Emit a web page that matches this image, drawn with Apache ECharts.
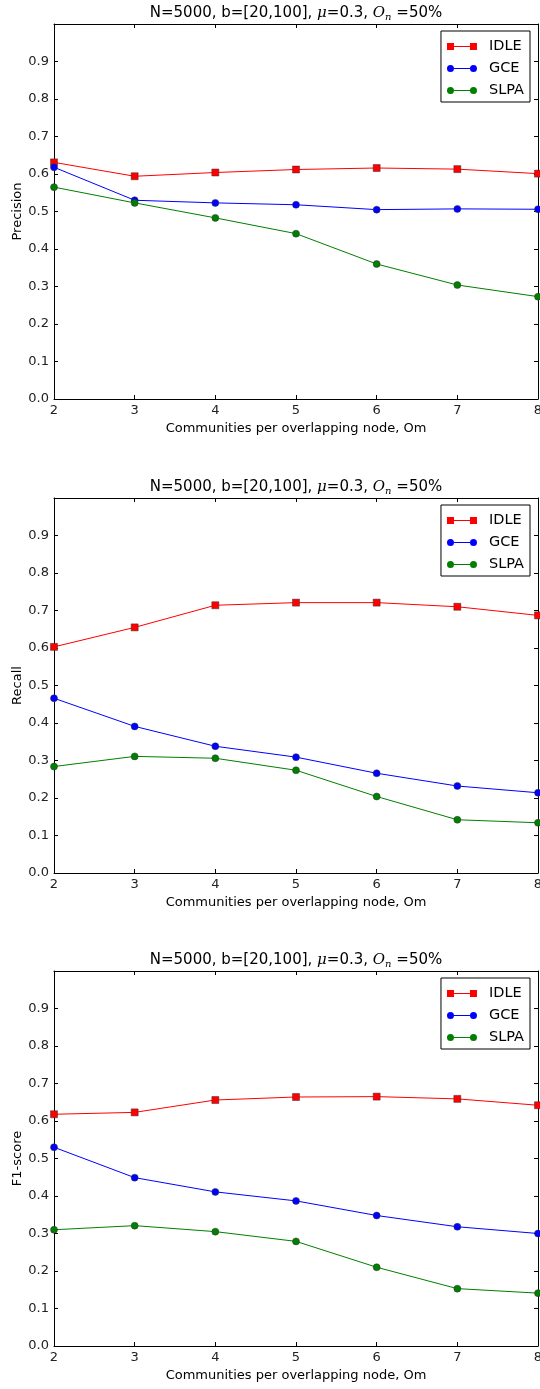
<!DOCTYPE html>
<html>
<head>
<meta charset="utf-8">
<script src="https://cdn.jsdelivr.net/npm/echarts@6/dist/echarts.min.js"></script>
<style>html,body{margin:0;padding:0;background:#fff;overflow:hidden;}#c{width:540px;height:1389px;}</style>
</head>
<body>
<div id="c"></div>
<script>
const om = [2, 3, 4, 5, 6, 7, 8];
const seriesNames = ['IDLE', 'GCE', 'SLPA'];
const yTitles = ['Precision', 'Recall', 'F1-score'];
const xTitle = 'Communities per overlapping node, Om';

const precisionIDLE = [0.631, 0.594, 0.604, 0.612, 0.616, 0.613, 0.601];
const precisionGCE  = [0.618, 0.530, 0.523, 0.518, 0.505, 0.507, 0.506];
const precisionSLPA = [0.565, 0.523, 0.483, 0.441, 0.360, 0.304, 0.273];

const recallIDLE = [0.603, 0.655, 0.714, 0.721, 0.721, 0.710, 0.687];
const recallGCE  = [0.466, 0.391, 0.338, 0.309, 0.266, 0.232, 0.214];
const recallSLPA = [0.284, 0.311, 0.306, 0.274, 0.204, 0.142, 0.134];

const f1IDLE = [0.618, 0.623, 0.656, 0.664, 0.665, 0.659, 0.642];
const f1GCE  = [0.530, 0.449, 0.411, 0.387, 0.348, 0.318, 0.300];
const f1SLPA = [0.310, 0.321, 0.305, 0.279, 0.210, 0.153, 0.141];

const panels = [
  [precisionIDLE, precisionGCE, precisionSLPA],
  [recallIDLE, recallGCE, recallSLPA],
  [f1IDLE, f1GCE, f1SLPA]
];

const colors = ['#ff0000', '#0000ff', '#007f00'];
const symbols = ['rect', 'circle', 'circle'];
const FONT = 'DejaVu Sans';
const tops = [24, 498, 971];
const H = 375;

const sqIcon = 'path://M0,0.5h7v7h-7z M7,3.5h16v1h-16z M23,0.5h7v7h-7z';
const ciIcon = 'path://M0,4a3.5,3.5 0 1,0 7,0a3.5,3.5 0 1,0 -7,0z M7,3.5h16v1h-16z M23,4a3.5,3.5 0 1,0 7,0a3.5,3.5 0 1,0 -7,0z';

const grid = [], xAxis = [], yAxis = [], series = [], title = [], legend = [];
const tickStyle = { show: true, inside: true, length: 4, lineStyle: { color: '#000', width: 1 } };
const lineStyleAxis = { show: true, onZero: false, lineStyle: { color: '#000', width: 1 } };

tops.forEach((t, g) => {
  grid.push({ left: 54, right: 2, top: t, height: H, containLabel: false, outerBoundsMode: 'none' });
  title.push({
    text: 'N=5000, b=[20,100], {m|μ}=0.3, {m|O}{s|n} =50%',
    left: 296, top: t - 20, textAlign: 'center', padding: 0,
    textStyle: {
      fontFamily: FONT, fontSize: 15, fontWeight: 'normal', color: '#000',
      rich: {
        m: { fontFamily: 'DejaVu Serif', fontStyle: 'italic', fontSize: 15, color: '#000' },
        s: { fontFamily: 'DejaVu Serif', fontStyle: 'italic', fontSize: 10, color: '#000', padding: [8, 0, 0, 0] }
      }
    }
  });
  legend.push({
    orient: 'vertical', right: 10, top: t + 7,
    data: seriesNames.map((n, i) => ({ name: n, icon: i === 0 ? sqIcon : ciIcon })),
    itemWidth: 30, itemHeight: 8, itemGap: 7,
    borderColor: '#000', borderWidth: 1, borderRadius: 0,
    padding: [8, 6, 4, 6],
    textStyle: { fontFamily: FONT, fontSize: 14.5, color: '#000', padding: [0, 0, 0, 7] },
    itemStyle: { borderWidth: 0 },
    selectedMode: false
  });
  xAxis.push({
    gridIndex: g, type: 'value', min: 2, max: 8, interval: 1, position: 'bottom',
    name: xTitle, nameLocation: 'middle', nameGap: 23.5, nameMoveOverlap: false,
    nameTextStyle: { fontFamily: FONT, fontSize: 13, color: '#000' },
    axisLine: lineStyleAxis, axisTick: tickStyle,
    axisLabel: { fontFamily: FONT, fontSize: 13, color: '#222', margin: 5 },
    splitLine: { show: false }
  });
  yAxis.push({
    gridIndex: g, type: 'value', min: 0, max: 1, interval: 0.1, position: 'left',
    name: yTitles[g], nameLocation: 'middle', nameGap: 30, nameMoveOverlap: false,
    nameTextStyle: { fontFamily: FONT, fontSize: 13, color: '#000' },
    axisLine: lineStyleAxis, axisTick: tickStyle,
    axisLabel: { fontFamily: FONT, fontSize: 13, color: '#222', margin: 5,
      formatter: v => v > 0.95 ? '' : v.toFixed(1) },
    splitLine: { show: false }
  });
});
tops.forEach((t, g) => {
  xAxis.push({
    gridIndex: g, type: 'value', min: 2, max: 8, interval: 1, position: 'top',
    axisLine: lineStyleAxis, axisTick: tickStyle, axisLabel: { show: false }, splitLine: { show: false }
  });
  yAxis.push({
    gridIndex: g, type: 'value', min: 0, max: 1, interval: 0.1, position: 'right',
    axisLine: lineStyleAxis, axisTick: tickStyle, axisLabel: { show: false }, splitLine: { show: false }
  });
});

panels.forEach((vals, g) => {
  vals.forEach((arr, i) => {
    series.push({
      name: seriesNames[i], type: 'line', xAxisIndex: g, yAxisIndex: g,
      data: om.map((x, k) => [x, arr[k]]),
      symbol: symbols[i], symbolSize: 7,
      color: colors[i],
      lineStyle: { color: colors[i], width: 1 },
      itemStyle: { color: colors[i], borderColor: '#333', borderWidth: 0.5 },
      clip: true, z: 2 + i
    });
  });
});

const chart = echarts.init(document.getElementById('c'), null, { renderer: 'canvas' });
chart.setOption({
  animation: false, backgroundColor: '#fff',
  title, legend, grid, xAxis, yAxis, series
});
</script>
</body>
</html>
